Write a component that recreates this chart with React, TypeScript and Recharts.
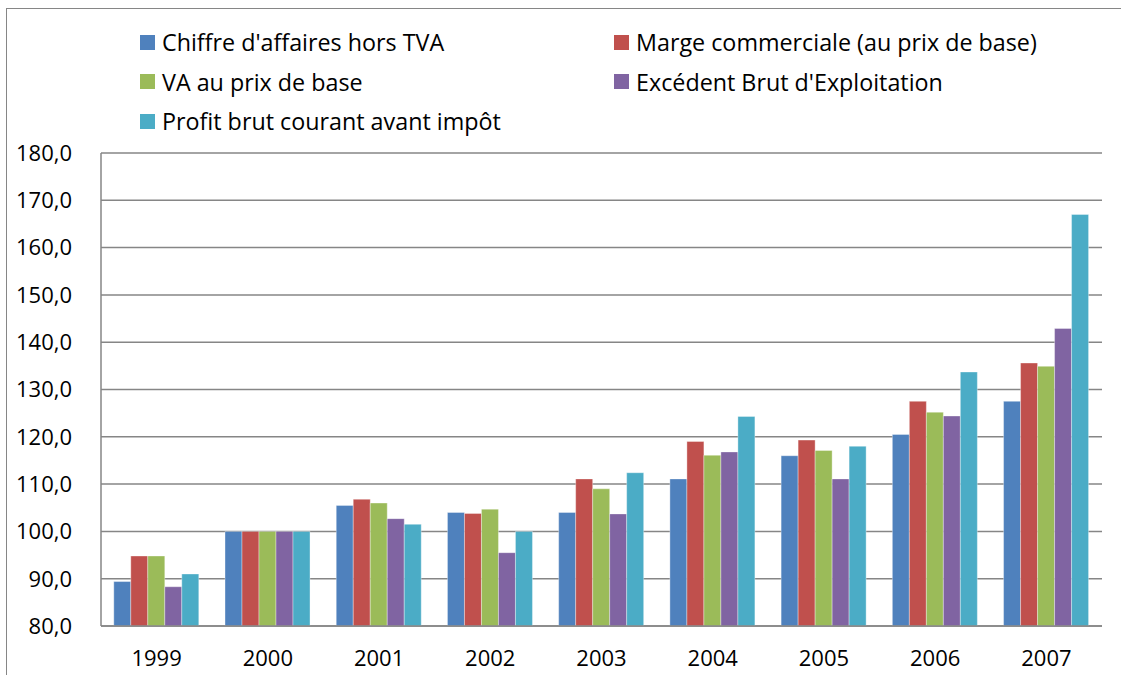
import React from "react"
import { Bar, BarChart, CartesianGrid, XAxis, YAxis } from "recharts"

const years = ["1999", "2000", "2001", "2002", "2003", "2004", "2005", "2006", "2007"]

const chiffreAffaires = [89.4, 100, 105.5, 104.0, 104.0, 111.1, 116.0, 120.5, 127.5]
const margeCommerciale = [94.8, 100, 106.8, 103.8, 111.1, 119.0, 119.3, 127.5, 135.6]
const vaPrixBase = [94.8, 100, 106.0, 104.7, 109.0, 116.1, 117.1, 125.2, 134.9]
const ebe = [88.3, 100, 102.7, 95.5, 103.7, 116.8, 111.1, 124.4, 142.9]
const profitBrut = [91.0, 100, 101.5, 100.0, 112.4, 124.3, 118.0, 133.7, 167.0]

const yTicks = [80, 90, 100, 110, 120, 130, 140, 150, 160, 170, 180]

const series = [
  { key: "ca", name: "Chiffre d'affaires hors TVA", color: "#4F81BD", values: chiffreAffaires },
  { key: "marge", name: "Marge commerciale (au prix de base)", color: "#C0504D", values: margeCommerciale },
  { key: "va", name: "VA au prix de base", color: "#9BBB59", values: vaPrixBase },
  { key: "ebe", name: "Excédent Brut d'Exploitation", color: "#8064A2", values: ebe },
  { key: "profit", name: "Profit brut courant avant impôt", color: "#4BACC6", values: profitBrut },
]

const data = years.map((year, i) => {
  const row: Record<string, string | number> = { year }
  series.forEach((s) => {
    row[s.key] = s.values[i]
  })
  return row
})

const FONT = "'Open Sans', Lato, sans-serif"
const GRID = "#868686"

function ChartLegend() {
  // two columns, filled row by row like Excel does
  return (
    <div style={{ position: "absolute", left: 0, top: 0, width: 1121, height: 140, fontFamily: FONT, fontSize: 23.3, color: "#000" }}>
      {series.map((s, i) => {
        const col = i % 2
        const row = Math.floor(i / 2)
        return (
          <div
            key={s.key}
            style={{
              position: "absolute",
              left: col === 0 ? 140 : 614,
              top: 42 + row * 39.5 - 15,
              height: 30,
              display: "flex",
              alignItems: "center",
              whiteSpace: "nowrap",
            }}
          >
            <span style={{ display: "inline-block", width: 15, height: 15, background: s.color, marginRight: 7 }} />
            <span>{s.name}</span>
          </div>
        )
      })}
    </div>
  )
}

export default function App() {
  return (
    <div style={{ position: "absolute", left: 0, top: 0, width: 1121, height: 675, background: "#fff", overflow: "hidden" }}>
      <div
        style={{
          position: "absolute",
          left: 6,
          top: 8,
          width: 1121,
          height: 700,
          borderLeft: `1.5px solid ${GRID}`,
          borderTop: `1.5px solid ${GRID}`,
        }}
      />
      <BarChart
        width={1121}
        height={675}
        data={data}
        margin={{ top: 153, right: 19, bottom: 19, left: 0 }}
        barGap={0}
        barCategoryGap="11.5%"
        style={{ position: "absolute", left: 0, top: 0 }}
      >
        <CartesianGrid vertical={false} stroke={GRID} strokeWidth={1.5} />
        <XAxis
          dataKey="year"
          height={30}
          tickLine={false}
          tickSize={0}
          tickMargin={24}
          axisLine={{ stroke: GRID, strokeWidth: 1.5 }}
          tick={{ fill: "#000", fontSize: 22, fontFamily: FONT }}
        />
        <YAxis
          width={101}
          domain={[80, 180]}
          ticks={yTicks}
          interval={0}
          tickFormatter={(v: number) => v.toFixed(1).replace(".", ",")}
          tickLine={false}
          tickSize={0}
          tickMargin={29}
          axisLine={{ stroke: GRID, strokeWidth: 1.5 }}
          tick={{ fill: "#000", fontSize: 22, fontFamily: FONT }}
          allowDataOverflow
        />
        {series.map((s) => (
          <Bar
            key={s.key}
            dataKey={s.key}
            name={s.name}
            fill={s.color}
            stroke="rgba(255,255,255,0.5)"
            strokeWidth={0.7}
            isAnimationActive={false}
          />
        ))}
      </BarChart>
      <ChartLegend />
    </div>
  )
}
